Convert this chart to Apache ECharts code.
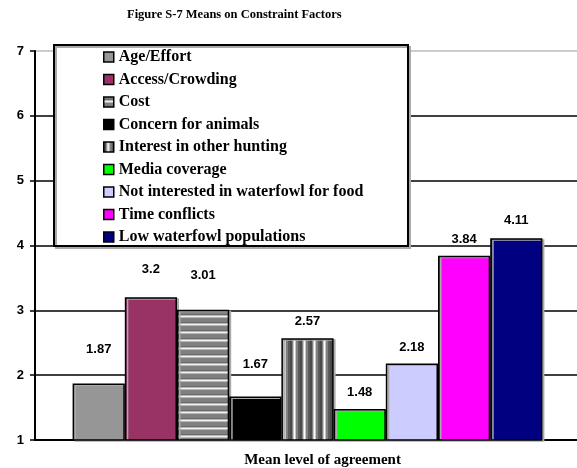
<!DOCTYPE html>
<html>
<head>
<meta charset="utf-8">
<script src="https://cdn.jsdelivr.net/npm/echarts@6/dist/echarts.min.js"></script>
<style>
  html, body { margin: 0; padding: 0; background: #fff; }
  #chart { width: 577px; height: 468px; }
</style>
</head>
<body>
<div id="chart"></div>
<script>
// data
const factors = [
  'Age/Effort',
  'Access/Crowding',
  'Cost',
  'Concern for animals',
  'Interest in other hunting',
  'Media coverage',
  'Not interested in waterfowl for food',
  'Time conflicts',
  'Low waterfowl populations'
]
const means = [1.87, 3.2, 3.01, 1.67, 2.57, 1.48, 2.18, 3.84, 4.11]
const categories = ['']
const yMin = 1
const yMax = 7
const yStep = 1

// striped fills, like the old Excel patterns
const makeStripes = (colors, vertical) => {
  const c = document.createElement('canvas')
  c.width = vertical ? colors.length : 4
  c.height = vertical ? 4 : colors.length
  const ctx = c.getContext('2d')
  colors.forEach((col, i) => {
    ctx.fillStyle = col
    if (vertical) ctx.fillRect(i, 0, 1, 4)
    else ctx.fillRect(0, i, 4, 1)
  })
  return { image: c, repeat: 'repeat' }
}

const costFill = makeStripes(['#808080', '#808080', '#6a6a6a', '#b8b8b8', '#eeeeee', '#b8b8b8', '#808080', '#808080'], false)
const huntFill = makeStripes(['#4a4a4a', '#4a4a4a', '#808080', '#c8c8c8', '#ffffff', '#c8c8c8', '#808080', '#808080', '#5a5a5a', '#5a5a5a'], true)

const fills = ['#969696', '#993366', costFill, '#000000', huntFill, '#00ff00', '#ccccff', '#ff00ff', '#000080']
// extra lift of the value labels (moved by hand in the original)
const labelLift = [18, 11, 18, 16, 0, 0, 0, 0, 1]

const chart = echarts.init(document.getElementById('chart'))

chart.setOption({
  animation: false,
  title: {
    text: 'Figure S-7 Means on Constraint Factors',
    left: 127,
    top: 8,
    padding: 0,
    textStyle: {
      fontFamily: 'Liberation Serif',
      fontWeight: 'bold',
      fontSize: 12.5,
      color: '#000'
    }
  },
  graphic: [
    {
      type: 'rect',
      z: 3,
      shape: { x: 54, y: 45, width: 354, height: 201 },
      style: {
        fill: '#fff',
        stroke: '#000',
        lineWidth: 2,
        shadowColor: '#aaa',
        shadowOffsetX: 2,
        shadowOffsetY: 2
      }
    }
  ],
  legend: {
    orient: 'vertical',
    left: 103,
    top: 49,
    padding: 0,
    z: 5,
    itemWidth: 10,
    itemHeight: 10,
    itemGap: 6.5,
    icon: 'rect',
    itemStyle: { borderColor: '#000', borderWidth: 1.5, shadowColor: 'transparent' },
    textStyle: {
      fontFamily: 'Liberation Serif',
      fontWeight: 'bold',
      fontSize: 16,
      lineHeight: 15,
      color: '#000'
    },
    data: factors
  },
  grid: {
    left: 35,
    right: -3,
    top: 51,
    bottom: 28,
    outerBoundsMode: 'none'
  },
  xAxis: {
    type: 'category',
    data: categories,
    name: 'Mean level of agreement',
    nameLocation: 'middle',
    nameGap: 13,
    nameTextStyle: {
      fontFamily: 'Liberation Serif',
      fontWeight: 'bold',
      fontSize: 15,
      color: '#000',
      padding: [0, 0, 0, 30]
    },
    axisLine: { lineStyle: { color: '#000', width: 2 } },
    axisTick: { show: false },
    axisLabel: { show: false }
  },
  yAxis: {
    type: 'value',
    min: yMin,
    max: yMax,
    interval: yStep,
    axisLine: { show: true, lineStyle: { color: '#000', width: 2 } },
    axisTick: { show: true, length: 5, lineStyle: { color: '#000', width: 1.5 } },
    axisLabel: {
      margin: 11,
      fontFamily: 'Liberation Sans',
      fontWeight: 'bold',
      fontSize: 13,
      color: '#000'
    },
    splitLine: {
      lineStyle: {
        color: ['#000', '#000', '#000', '#000', '#000', '#000', '#bdbdbd'],
        width: 1.5
      }
    }
  },
  series: factors.map((name, i) => ({
    name,
    type: 'bar',
    data: [means[i]],
    barGap: '0%',
    barCategoryGap: '13.8%',
    itemStyle: {
      color: fills[i],
      borderColor: '#000',
      borderWidth: 1.5,
      shadowColor: '#aaa',
      shadowOffsetX: 2,
      shadowOffsetY: 1
    },
    label: {
      show: true,
      position: 'top',
      distance: 10,
      offset: [0, -labelLift[i]],
      formatter: '{c}',
      fontFamily: 'Liberation Sans',
      fontWeight: 'bold',
      fontSize: 13,
      color: '#000'
    }
  }))
})
</script>
</body>
</html>
